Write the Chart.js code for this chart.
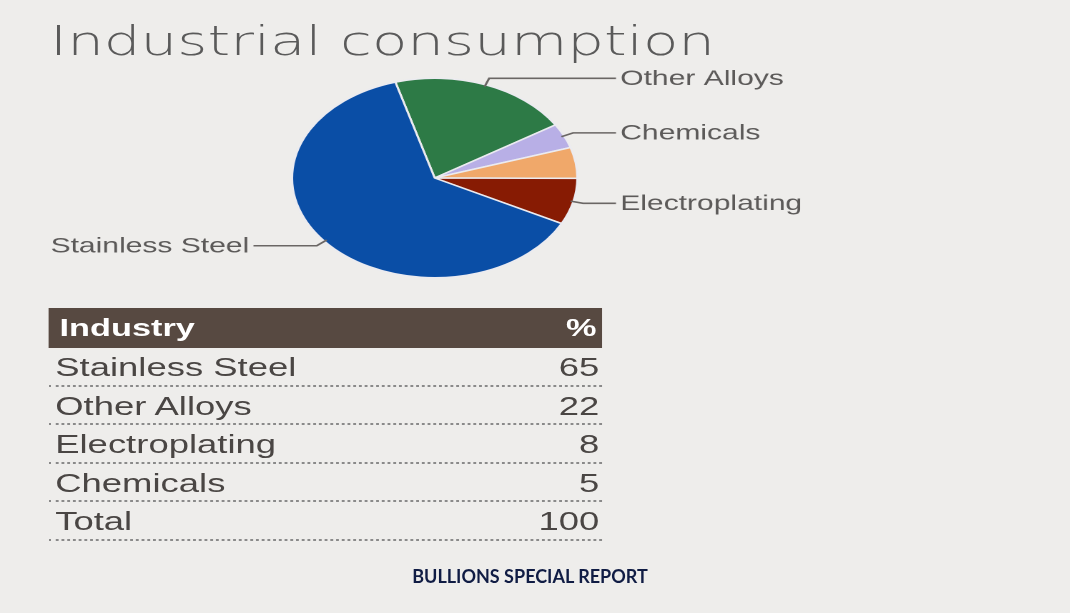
<!DOCTYPE html>
<html>
<head>
<meta charset="utf-8">
<script src="https://cdn.jsdelivr.net/npm/chart.js@4/dist/chart.umd.min.js"></script>
<style>
  html, body { margin: 0; padding: 0; background: #eeedeb; overflow: hidden; }
  body { width: 1070px; height: 613px; position: relative; }
  /* the source picture is stretched sideways, so the whole sheet is too */
  #sheet { position: absolute; left: 0; top: 0; width: 748px; height: 613px;
           transform: scaleX(1.43); transform-origin: 0 0; }
  #title { position: absolute; left: 35px; top: 20.5px; font-family: "DejaVu Sans", sans-serif;
           font-weight: 300; font-size: 40.5px; line-height: 40px; color: #5a5a5a; white-space: nowrap; }
  #pie { position: absolute; left: 0; top: 70px; }
  #tbl { position: absolute; left: 33.6px; top: 308px; width: 387.5px;
         font-family: "Liberation Sans", Arial, sans-serif; }
  .head { height: 40px; line-height: 40px; background: #574941; color: #fff;
          font-weight: bold; font-size: 24px; display: flex; justify-content: space-between;
          padding: 0 4px 0 8px; }
  .row { height: 38.5px; line-height: 38px; box-sizing: border-box; border-bottom: 2px dotted #8a8a8a;
         font-size: 25.5px; color: #4a4644; display: flex; justify-content: space-between;
         padding: 0 2px 0 5px; }
  #foot { position: absolute; left: 330px; width: 400px; top: 567px; text-align: center;
          font-family: Lato, "Open Sans", sans-serif; font-weight: 700; font-size: 18px;
          line-height: 18px; color: #101c44; }
</style>
</head>
<body>
<div id="sheet">
  <div id="title">Industrial consumption</div>
  <canvas id="pie" width="748" height="220"></canvas>
  <div id="tbl"></div>
</div>
<div id="foot">BULLIONS SPECIAL REPORT</div>

<script>
// pie slices, clockwise from the top
const categories = ["Other Alloys", "Chemicals", "", "Electroplating", "Stainless Steel"];
const shares = [20.5, 4, 5, 7.5, 63];
const sliceColors = ["#2d7a46", "#b8afe6", "#f0a86a", "#871b03", "#0a4ea6"];

// table under the pie
const tableHeader = ["Industry", "%"];
const tableNames = ["Stainless Steel", "Other Alloys", "Electroplating", "Chemicals"];
const tableValues = [65, 22, 8, 5];
const totalLabel = "Total";
const totalValue = 100;

// table
const tbl = document.getElementById("tbl");
let html = '<div class="head"><span>' + tableHeader[0] + '</span><span>' + tableHeader[1] + '</span></div>';
tableNames.forEach(function (name, i) {
    html += '<div class="row"><span>' + name + '</span><span>' + tableValues[i] + '</span></div>';
});
html += '<div class="row"><span>' + totalLabel + '</span><span>' + totalValue + '</span></div>';
tbl.innerHTML = html;

// leader lines + labels
const leaderLabels = {
    id: "leaderLabels",
    afterDatasetsDraw(chart) {
        const ctx = chart.ctx;
        const meta = chart.getDatasetMeta(0);
        ctx.save();
        ctx.strokeStyle = "#6a6664";
        ctx.lineWidth = 1.6;
        ctx.fillStyle = "#5c5a59";
        ctx.font = '21px "Liberation Sans", Arial, sans-serif';
        ctx.textBaseline = "middle";
        meta.data.forEach(function (arc, i) {
            const label = chart.data.labels[i];
            if (!label) return;
            const p = arc.getProps(["x", "y", "startAngle", "endAngle", "outerRadius"], true);
            const a = (p.startAngle + p.endAngle) / 2;
            const r = p.outerRadius;
            const ex = p.x + Math.cos(a) * (r - 2), ey = p.y + Math.sin(a) * (r - 2);
            const kx = p.x + Math.cos(a) * (r + 7), ky = p.y + Math.sin(a) * (r + 7);
            const right = Math.cos(a) >= 0;
            const endX = right ? p.x + r + 27 : p.x - r - 27;
            ctx.beginPath();
            ctx.moveTo(ex, ey);
            ctx.lineTo(kx, ky);
            ctx.lineTo(endX, ky);
            ctx.stroke();
            ctx.textAlign = right ? "left" : "right";
            ctx.fillText(label, right ? endX + 3 : endX - 3, ky + 1);
        });
        ctx.restore();
    }
};

new Chart(document.getElementById("pie"), {
    type: "pie",
    data: {
        labels: categories,
        datasets: [{
            data: shares,
            backgroundColor: sliceColors,
            borderColor: "#ebebf0",
            borderWidth: 1.5,
            hoverOffset: 0
        }]
    },
    options: {
        responsive: false,
        devicePixelRatio: 2,
        animation: false,
        events: [],
        rotation: -16,
        layout: { padding: { left: 203.5, right: 343.5, top: 7.5, bottom: 11.5 } },
        plugins: {
            legend: { display: false },
            tooltip: { enabled: false }
        }
    },
    plugins: [leaderLabels]
});
</script>
</body>
</html>
